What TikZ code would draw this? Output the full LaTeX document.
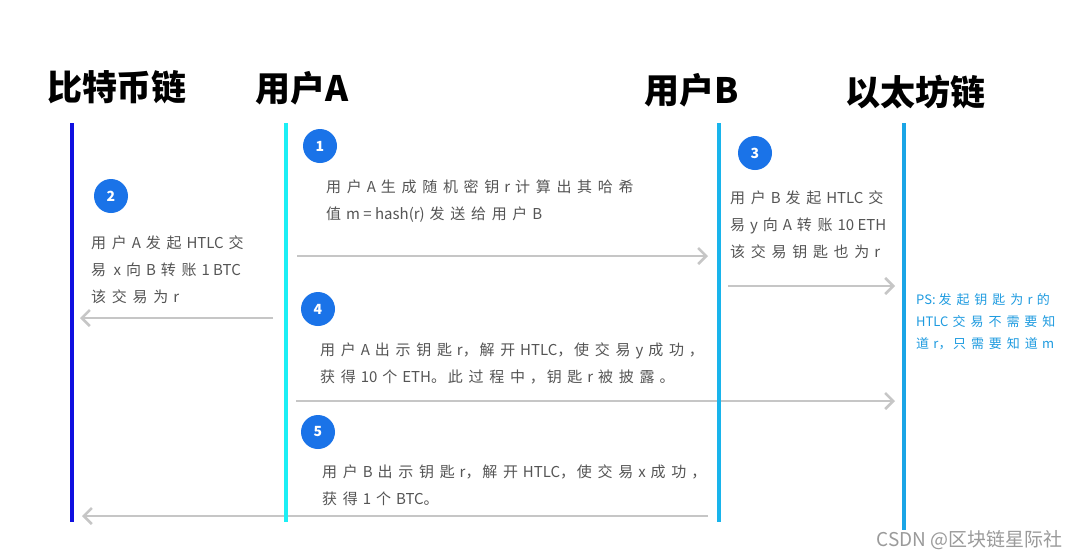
\documentclass[tikz,border=0pt]{standalone}
\usepackage{fontspec}
\setmainfont{Noto Sans CJK SC}
\usetikzlibrary{arrows.meta}
\definecolor{btcblue}{HTML}{1010E0}
\definecolor{uacyan}{HTML}{1CEFF5}
\definecolor{ubblue}{HTML}{18B4EC}
\definecolor{ethblue}{HTML}{1AA5E6}
\definecolor{arrowgray}{HTML}{C6C6C6}
\definecolor{badgeblue}{HTML}{1A73E8}
\definecolor{txtgray}{HTML}{555555}
\definecolor{psblue}{HTML}{1E9BE0}
\definecolor{wmgray}{HTML}{9A9A9A}
% wider glue round the Han characters of the body text
\chardef\hanclass=7
\chardef\punctclass=8
\count255="4E00
\loop
  \XeTeXcharclass\count255=\hanclass
  \ifnum\count255<"9FFF \advance\count255 by 1 \repeat
\XeTeXcharclass"3002=\punctclass
\XeTeXcharclass"FF0C=\punctclass
\XeTeXinterchartoks\hanclass\hanclass={\hskip0.38em\relax}
\XeTeXinterchartoks\hanclass 0={\hskip0.33em\relax}
\XeTeXinterchartoks 0 \hanclass={\hskip0.33em\relax}
\XeTeXinterchartoks\hanclass\punctclass={\hskip0.33em\relax}
\XeTeXinterchartoks\punctclass\hanclass={\hskip0.12em\relax}
\newcommand\hanspaced{\XeTeXinterchartokenstate=1\relax}
\begin{document}
\begin{tikzpicture}[x=1pt, y=-1pt,
    chainline/.style={line width=4.5pt},
    msg/.style={draw=arrowgray, line width=2.5pt, -{Straight Barb[length=8pt,width=16pt]}},
    badge/.style={circle, fill=badgeblue, text=white, minimum size=34pt, inner sep=0pt,
      font=\bfseries\fontsize{14}{14}\selectfont},
    head/.style={font=\bfseries\fontsize{35}{35}\selectfont},
    body/.style={anchor=north west, align=left, inner sep=0pt, text=txtgray,
      font=\fontsize{15}{27}\selectfont\hanspaced},
    pstext/.style={body, text=psblue, font=\fontsize{13}{22}\selectfont\hanspaced}]
    \useasboundingbox[fill=white] (0,0) rectangle (1080,558);

    % Nodes
    \node[head] (BTC) at (117,87) {比特币链};
    \node[head] (UA) at (302,88) {用户A};
    \node[head] (UB) at (692,90) {用户B};
    \node[head] (ETH) at (915,92) {以太坊链};

    \node[badge] (n1) at (320,146) {1};
    \node[badge] (n2) at (111,196) {2};
    \node[badge] (n3) at (755,153) {3};
    \node[badge] (n4) at (318,309) {4};
    \node[badge] (n5) at (318,432) {5};

    \node[body] (t1) at (326,179.5) {用户A生成随机密钥r计算出其哈希\\值m = hash(r)发送给用户B};
    \node[body] (t2) at (91,235.5) {用户A发起HTLC交\\易\enspace x向B转账1 BTC\\该交易为r};
    \node[body] (t3) at (730,190.5) {用户B发起HTLC交\\易y向A转账10 ETH\\该交易钥匙也为r};
    \node[body] (t4) at (320,342.5) {用户A出示钥匙r，解开HTLC，使交易y成功，\\获得10个ETH。此过程中，钥匙r被披露。};
    \node[body] (t5) at (322,464.5) {用户B出示钥匙r，解开HTLC，使交易x成功，\\获得1个BTC。};
    \node[pstext] (ps) at (916,293.5) {PS: 发起钥匙为r的\\HTLC交易不需要知\\道r，只需要知道m};

    \node[anchor=east, text=wmgray, font=\fontsize{19}{19}\selectfont] (wm) at (1066,540) {CSDN @区块链星际社};

    % Lifelines
    \coordinate (BTCtop) at (72,123);  \coordinate (BTCbot) at (72,522);
    \coordinate (UAtop) at (286,123);  \coordinate (UAbot) at (286,522);
    \coordinate (UBtop) at (719,123);  \coordinate (UBbot) at (719,522);
    \coordinate (ETHtop) at (904,123); \coordinate (ETHbot) at (904,530);

    % Message ends
    \coordinate (m1a) at (297,256); \coordinate (m1b) at (708,256);
    \coordinate (m2a) at (273,318); \coordinate (m2b) at (80,318);
    \coordinate (m3a) at (728,286); \coordinate (m3b) at (895,286);
    \coordinate (m4a) at (296,401); \coordinate (m4b) at (895,401);
    \coordinate (m5a) at (708,516); \coordinate (m5b) at (82,516);

    % Arrows
    \draw[msg] (m1a) -- (m1b);
    \draw[msg] (m2a) -- (m2b);
    \draw[msg] (m3a) -- (m3b);
    \draw[msg] (m4a) -- (m4b);
    \draw[msg] (m5a) -- (m5b);

    \draw[chainline, btcblue] (BTCtop) -- (BTCbot);
    \draw[chainline, uacyan] (UAtop) -- (UAbot);
    \draw[chainline, ubblue] (UBtop) -- (UBbot);
    \draw[chainline, ethblue] (ETHtop) -- (ETHbot);
\end{tikzpicture}
\end{document}
